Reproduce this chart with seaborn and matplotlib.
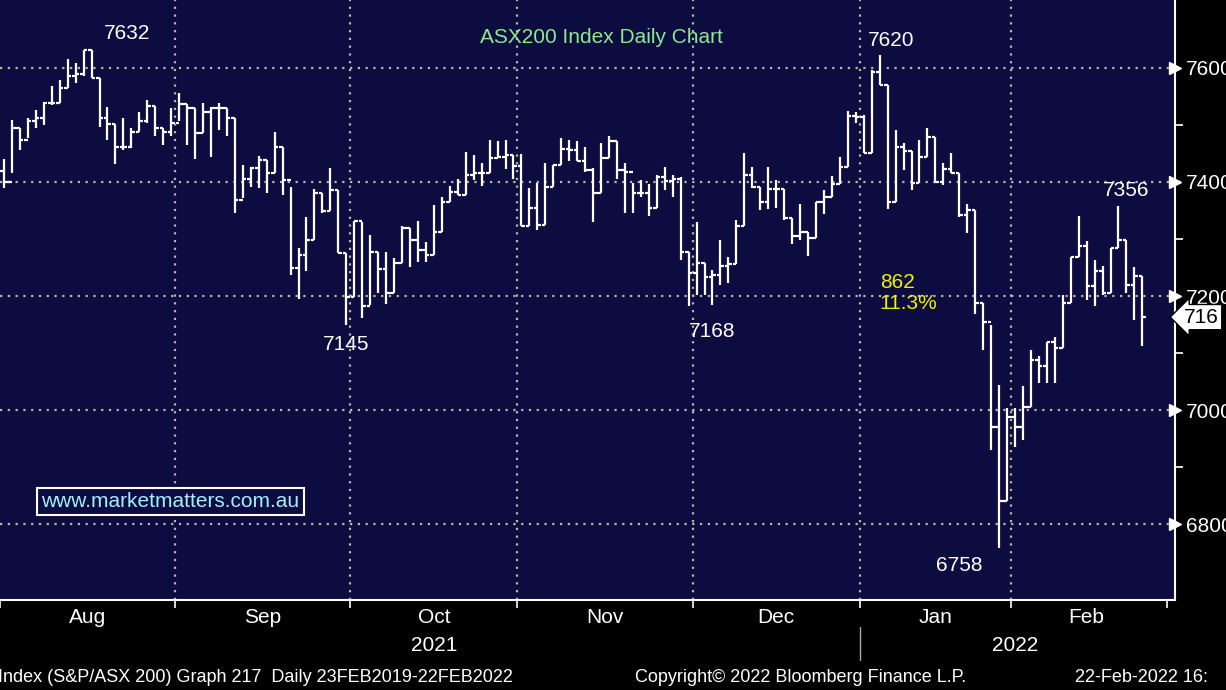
import numpy as np
import pandas as pd
import seaborn as sns
import matplotlib.pyplot as plt

# daily OHLC (ASX200, late Jul 2021 - 22 Feb 2022)
highs = [7440, 7509, 7494, 7512, 7526, 7541, 7568, 7579, 7615, 7609, 7632, 7632, 7582, 7532, 7502,
         7512, 7494, 7523, 7544, 7533, 7494, 7529, 7556, 7537, 7529, 7539, 7532, 7538, 7529, 7512,
         7430, 7427, 7445, 7439, 7488, 7462, 7392, 7284, 7339, 7387, 7381, 7424, 7386, 7275, 7332,
         7330, 7307, 7278, 7278, 7266, 7322, 7319, 7332, 7294, 7360, 7374, 7393, 7406, 7452, 7447,
         7433, 7474, 7471, 7474, 7447, 7449, 7389, 7398, 7433, 7430, 7477, 7473, 7471, 7462, 7424,
         7468, 7480, 7471, 7434, 7398, 7404, 7397, 7412, 7426, 7412, 7408, 7278, 7330, 7257, 7245,
         7299, 7269, 7333, 7451, 7427, 7392, 7426, 7403, 7387, 7336, 7361, 7313, 7365, 7385, 7410,
         7443, 7525, 7523, 7517, 7596, 7623, 7570, 7491, 7468, 7455, 7474, 7494, 7479, 7434, 7451,
         7416, 7362, 7351, 7188, 7150, 7044, 7003, 7003, 7043, 7106, 7094, 7119, 7129, 7202, 7269,
         7340, 7296, 7264, 7252, 7284, 7358, 7299, 7251, 7235]
lows = [7390, 7415, 7456, 7477, 7494, 7500, 7535, 7538, 7564, 7573, 7586, 7582, 7497, 7474, 7432,
        7456, 7459, 7488, 7503, 7481, 7465, 7480, 7506, 7465, 7440, 7485, 7444, 7491, 7480, 7346,
        7372, 7392, 7389, 7380, 7415, 7377, 7237, 7194, 7243, 7298, 7346, 7349, 7275, 7149, 7199,
        7161, 7184, 7205, 7186, 7206, 7257, 7251, 7260, 7259, 7272, 7313, 7364, 7377, 7377, 7404,
        7393, 7416, 7442, 7422, 7405, 7322, 7322, 7315, 7325, 7392, 7430, 7436, 7436, 7418, 7330,
        7380, 7442, 7406, 7346, 7346, 7374, 7340, 7354, 7386, 7374, 7263, 7183, 7202, 7202, 7184,
        7219, 7222, 7256, 7323, 7389, 7350, 7352, 7354, 7334, 7291, 7299, 7270, 7301, 7344, 7374,
        7396, 7427, 7504, 7450, 7450, 7570, 7352, 7365, 7421, 7386, 7399, 7444, 7399, 7395, 7415,
        7339, 7310, 7169, 7105, 6930, 6758, 6840, 6936, 6948, 7006, 7048, 7048, 7048, 7109, 7188,
        7269, 7193, 7183, 7202, 7205, 7284, 7205, 7158, 7112]
closes = [7400, 7494, 7474, 7506, 7512, 7538, 7538, 7564, 7586, 7590, 7632, 7582, 7512, 7502, 7462,
          7462, 7488, 7506, 7533, 7494, 7488, 7504, 7537, 7529, 7485, 7523, 7529, 7529, 7512, 7368,
          7406, 7424, 7439, 7415, 7462, 7404, 7249, 7272, 7298, 7381, 7349, 7386, 7275, 7199, 7332,
          7183, 7278, 7247, 7205, 7257, 7319, 7299, 7281, 7272, 7313, 7364, 7383, 7377, 7412, 7416,
          7416, 7442, 7443, 7447, 7428, 7322, 7355, 7325, 7392, 7430, 7457, 7456, 7436, 7421, 7380,
          7442, 7471, 7421, 7418, 7380, 7380, 7354, 7409, 7401, 7406, 7278, 7241, 7257, 7234, 7237,
          7253, 7256, 7323, 7412, 7392, 7364, 7387, 7387, 7336, 7305, 7313, 7301, 7364, 7374, 7396,
          7427, 7516, 7513, 7450, 7592, 7570, 7365, 7461, 7455, 7399, 7444, 7479, 7400, 7422, 7416,
          7342, 7351, 7188, 7155, 6970, 6840, 6988, 6971, 7006, 7088, 7078, 7119, 7109, 7188, 7269,
          7288, 7217, 7243, 7205, 7284, 7299, 7220, 7235, 7163]
opens = [7420] + closes[:-1]

month_names = ["Aug", "Sep", "Oct", "Nov", "Dec", "Jan", "Feb"]
month_starts = [0, 22, 44, 65, 87, 108, 127]
year_names = ["2021", "2022"]
year_starts = [0, 108]

callouts = [(10, 7632, "7632"), (43, 7145, "7145"), (89, 7168, "7168"),
            (110, 7620, "7620"), (119, 6758, "6758"), (138, 7356, "7356")]
label_dx = [5.5, 0, 0, 1.5, 1, 3]

df = pd.DataFrame({"day": np.arange(len(closes)), "open": opens, "high": highs,
                   "low": lows, "close": closes})

sns.set_theme(style="dark")
plt.rcParams["font.family"] = ["Liberation Sans", "DejaVu Sans"]

fig = plt.figure(figsize=(12.26, 6.9), dpi=100, facecolor="black")
ax = fig.add_axes([0, 1 - 600 / 690, 1175 / 1226, 600 / 690])
ax.set_facecolor("#0d0c40")

x0, x1 = -0.5, 147.1
ax.set_xlim(x0, x1)
ax.set_ylim(6667, 7719)

# grid
for v in [6800, 7000, 7200, 7400, 7600]:
    ax.axhline(v, color="#b8b8a8", ls=(0, (1, 2.5)), lw=1.6, zorder=1)
for m in month_starts[1:]:
    ax.axvline(m - 0.5, color="#b8b8a8", ls=(0, (1, 2.5)), lw=1.6, zorder=1)

# OHLC bars
w = 0.45
ax.vlines(df["day"], df["low"], df["high"], color="white", lw=1.6, zorder=3)
ax.hlines(df["open"], df["day"] - w, df["day"], color="white", lw=1.6, zorder=3)
ax.hlines(df["close"], df["day"], df["day"] + w, color="white", lw=1.6, zorder=3)

tkw = dict(color="white", fontsize=15, ha="center", zorder=4)
for (d, v, s), dx in zip(callouts, label_dx):
    va = "bottom" if v > 7300 else "top"
    off = 12 if va == "bottom" else -14
    ax.text(d + dx, v + off, s, va=va, **tkw)

ax.text(75, 7654, "ASX200 Index Daily Chart", color="#8ee88e", fontsize=15, ha="center", va="center")
ax.text(110, 7205, "862\n11.3%", color="#f0f000", fontsize=15, ha="left", va="center",
        linespacing=1.1, zorder=6)
ax.text(4.7, 6840, "www.marketmatters.com.au", color="#a0f0ff", fontsize=15, ha="left", va="center",
        bbox=dict(boxstyle="square,pad=0.2", fc="#0d0c40", ec="white", lw=1.5))

# right axis
ax.yaxis.tick_right()
ax.set_yticks([6800, 7000, 7200, 7400, 7600])
ax.set_yticklabels(["6800", "7000", "7200", "7400", "7600"], color="white", fontsize=15)
ax.tick_params(axis="y", length=0, pad=8)
ax.set_yticks([6900, 7100, 7300, 7500], minor=True)
ax.tick_params(axis="y", which="minor", length=6, color="white", width=1.2, right=True)
ax.plot([x1] * 5, [6800, 7000, 7200, 7400, 7600], ">", color="white", ms=8,
        clip_on=False, zorder=5)
ax.annotate(str(closes[-1])[:3], xy=(x1 + 0.4, closes[-1]), xycoords="data", xytext=(x1 + 1.1, closes[-1]),
            textcoords="data", color="black", fontsize=15, va="center", ha="left", annotation_clip=False,
            bbox=dict(boxstyle="larrow,pad=0.15", fc="white", ec="black", lw=1))

# x axis
ax.set_xticks([m - 0.5 for m in month_starts] + [x1 - 1])
ax.set_xticklabels([])
ax.tick_params(axis="x", length=6, color="white", width=1.2, bottom=True)
ends = month_starts[1:] + [146]
for name, a, b in zip(month_names, month_starts, ends):
    ax.text((a + b) / 2 - 0.5, -0.013, name, transform=ax.get_xaxis_transform(),
            color="white", fontsize=15, ha="center", va="top")
for name, a, b in zip(year_names, year_starts, [108, 146]):
    ax.text((a + b) / 2, -0.06, name, transform=ax.get_xaxis_transform(),
            color="white", fontsize=15, ha="center", va="top")
ax.plot([year_starts[1] - 0.5] * 2, [-0.045, -0.1], color="#aaaaaa", lw=1,
        transform=ax.get_xaxis_transform(), clip_on=False)

for s in ["top", "left"]:
    ax.spines[s].set_visible(False)
for s in ["bottom", "right"]:
    ax.spines[s].set_color("white")
    ax.spines[s].set_linewidth(1.5)

fig.text(-0.002, 0.018, "Index (S&P/ASX 200) Graph 217  Daily 23FEB2019-22FEB2022", color="white",
         fontsize=13, ha="left", va="center")
fig.text(0.518, 0.018, "Copyright\u00a9 2022 Bloomberg Finance L.P.", color="white", fontsize=13,
         ha="left", va="center")
fig.text(0.877, 0.018, "22-Feb-2022 16:", color="white", fontsize=13, ha="left", va="center")

fig.savefig("out.png", dpi=100, facecolor="black")
